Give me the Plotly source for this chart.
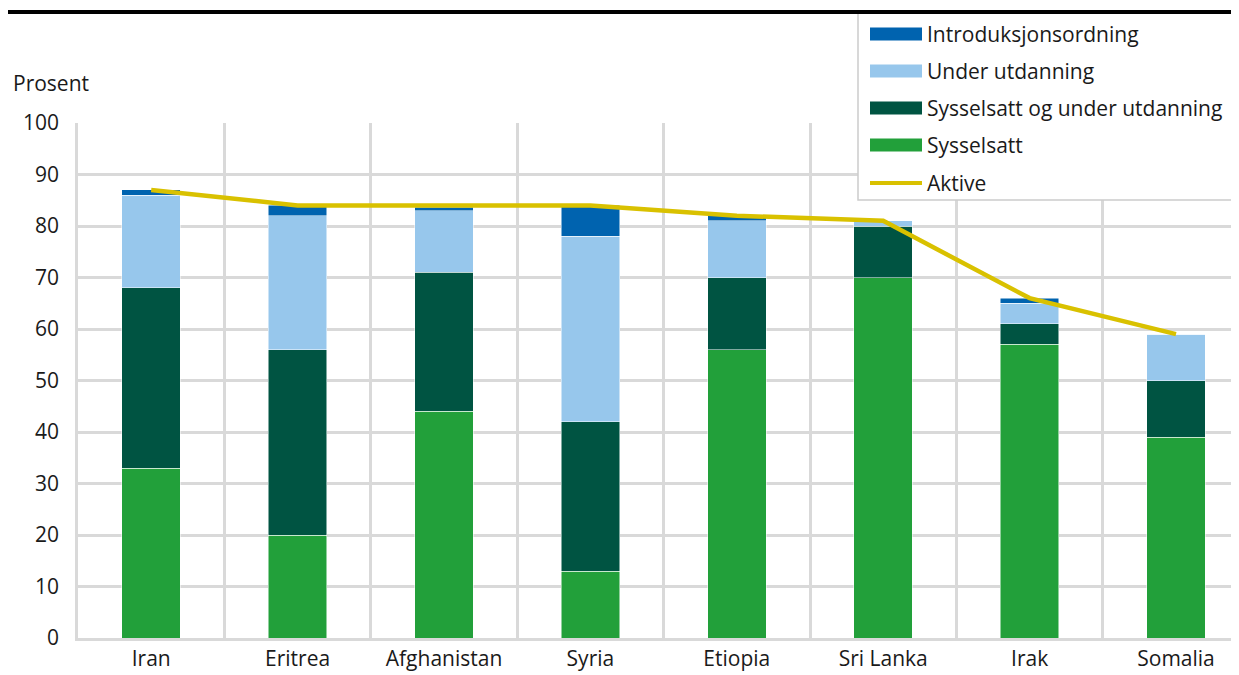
import plotly.graph_objects as go

countries = ["Iran", "Eritrea", "Afghanistan", "Syria", "Etiopia", "Sri Lanka", "Irak", "Somalia"]
sysselsatt = [33, 20, 44, 13, 56, 70, 57, 39]
syss_og_utd = [35, 36, 27, 29, 14, 10, 4, 11]
under_utd = [18, 26, 12, 36, 11, 1, 4, 9]
intro = [1, 2, 0.6, 6, 1, 0, 1, 0]
aktive = [87, 84, 84, 84, 82, 81, 66, 59]

series = [
    ("Sysselsatt", sysselsatt, "#22A03A"),
    ("Sysselsatt og under utdanning", syss_og_utd, "#005442"),
    ("Under utdanning", under_utd, "#97C7EC"),
    ("Introduksjonsordning", intro, "#0063AF"),
]
aktive_color = "#D9C100"
font = "Open Sans"
txt = "#1a1a1a"
grid = "#D9D9D9"

# page body has an 8px margin, so the figure is laid out in page pixels minus 8
OFF = 8
PW, PH = 1239, 675
W, H = PW - OFF, PH - OFF
L, R, T, B = 78 - OFF, 0, 123 - OFF, 37
pw, ph = W - L - R, H - T - B


def px(x):
    return (x - OFF - L) / pw


def py(y):
    return (H - B - (y - OFF)) / ph


x = list(range(len(countries)))
fig = go.Figure()
for name, vals, col in series:
    fig.add_trace(go.Bar(x=x, y=vals, name=name, marker_color=col,
                         marker_line=dict(color="white", width=0.5),
                         width=0.4, showlegend=False))
fig.add_trace(go.Scatter(x=x, y=aktive, name="Aktive", mode="lines",
                         line=dict(color=aktive_color, width=4.5), showlegend=False))

# manual legend
shapes = [
    dict(type="rect", xref="paper", yref="paper", x0=px(858), x1=px(1237), y0=py(200), y1=py(13),
         line=dict(color="#CCCCCC", width=1.5), fillcolor="white", layer="above"),
    dict(type="line", xref="paper", yref="paper", x0=px(0), x1=px(1239), y0=py(12), y1=py(12),
         line=dict(color="black", width=4)),
]
annotations = [
    dict(text="Prosent", xref="paper", yref="paper", x=px(11), y=py(83), xanchor="left",
         yanchor="middle", showarrow=False, font=dict(size=21, color=txt, family=font)),
]
legend_items = [("Introduksjonsordning", "#0063AF", "bar"),
                ("Under utdanning", "#97C7EC", "bar"),
                ("Sysselsatt og under utdanning", "#005442", "bar"),
                ("Sysselsatt", "#22A03A", "bar"),
                ("Aktive", aktive_color, "line")]
rows = [34, 71, 108, 145, 183]
for (name, col, kind), yc in zip(legend_items, rows):
    if kind == "bar":
        shapes.append(dict(type="rect", xref="paper", yref="paper", x0=px(870), x1=px(922),
                           y0=py(yc + 6.5), y1=py(yc - 6.5), fillcolor=col, line=dict(width=0),
                           layer="above"))
    else:
        shapes.append(dict(type="line", xref="paper", yref="paper", x0=px(870), x1=px(922),
                           y0=py(yc), y1=py(yc), line=dict(color=col, width=4), layer="above"))
    annotations.append(dict(text=name, xref="paper", yref="paper", x=px(925), y=py(yc),
                            xanchor="left", yanchor="middle", showarrow=False,
                            font=dict(size=21, color=txt, family=font)))

fig.update_layout(
    width=W, height=H, barmode="stack",
    margin=dict(l=L, r=R, t=T, b=B, pad=0),
    plot_bgcolor="white", paper_bgcolor="white",
    font=dict(family=font, size=21, color=txt),
    shapes=shapes, annotations=annotations,
    xaxis=dict(range=[-0.5, -0.5 + pw / 146.4], tickvals=x, ticktext=countries,
               showgrid=False, ticks="", showline=True, linecolor=grid, linewidth=2.5,
               minor=dict(tickmode="linear", tick0=0.5, dtick=1, showgrid=True,
                          gridcolor=grid, gridwidth=2.5, ticks=""),
               zeroline=False, fixedrange=True),
    yaxis=dict(range=[0, 100], dtick=10, showgrid=True, gridcolor=grid, gridwidth=2.5,
               showline=True, linecolor=grid, linewidth=2.5, ticks="",
               ticklabelstandoff=12, zeroline=False),
    bargap=0.6,
)

fig.write_html("out.html")
